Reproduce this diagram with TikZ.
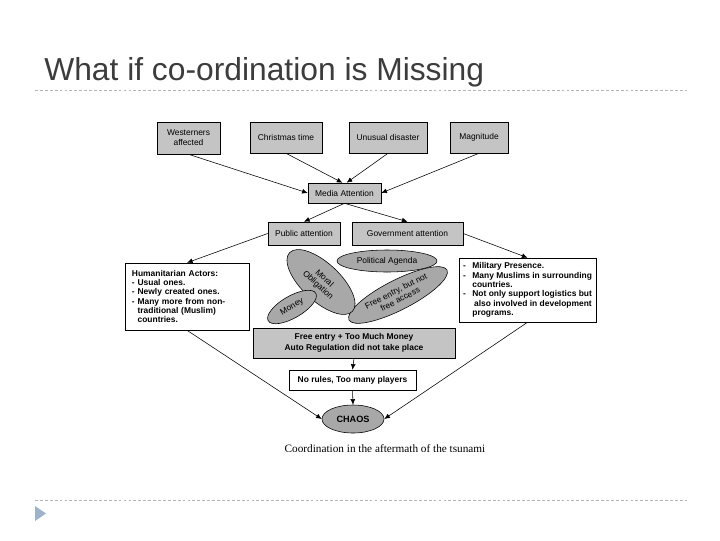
\documentclass[tikz,border=0pt]{standalone}
\usepackage{fontspec}
\setmainfont{Liberation Sans}
\newfontfamily\capfont{Liberation Serif}
\usetikzlibrary{arrows.meta,shapes.geometric}

\definecolor{boxgray}{HTML}{C4C4C4}
\definecolor{ovalgray}{HTML}{A8A8A8}
\definecolor{titlegray}{HTML}{3C3C3C}
\definecolor{rulegray}{HTML}{B4B4B4}
\definecolor{bulletblue}{HTML}{9FB3C8}

\tikzset{
  graybox/.style={draw,fill=boxgray,inner sep=1pt,align=center,font=\fontsize{6}{7}\selectfont},
  whitebox/.style={draw,fill=white,inner xsep=5pt,inner ysep=3pt,align=left,font=\fontsize{6}{6.6}\selectfont\bfseries},
  oval/.style={draw,ellipse,fill=ovalgray,inner sep=0pt,align=center,font=\fontsize{6}{6.6}\selectfont},
  link/.style={-{Latex[length=4pt,width=3.5pt]},thin},
}

\begin{document}
\begin{tikzpicture}[x=0.025cm,y=-0.025cm]
\useasboundingbox (0,0) rectangle (720,540);
% slide frame
\node[anchor=base west,inner sep=0pt,text=titlegray,font=\fontsize{22.6}{26}\selectfont] (title) at (44,80) {What if co-ordination is Missing};
\draw[rulegray,dash pattern=on 2pt off 1.5pt] (35,90) -- (688,90);
\draw[rulegray,dash pattern=on 2pt off 1.5pt] (35,500) -- (688,500);
\fill[bulletblue] (35,506) -- (46,513.5) -- (35,521) -- cycle;

% causes
\node[graybox,minimum width=1.575cm,minimum height=0.8cm] (west) at (188.5,138) {Westerners\\affected};
\node[graybox,minimum width=1.8cm,minimum height=0.775cm] (xmas) at (286,137.5) {Christmas time};
\node[graybox,minimum width=1.95cm,minimum height=0.775cm] (unusual) at (388,137.5) {Unusual disaster};
\node[graybox,minimum width=1.45cm,minimum height=0.775cm] (magn) at (479,137.5) {Magnitude};
\node[graybox,minimum width=1.825cm,minimum height=0.5cm] (media) at (344.5,193) {Media Attention};
\node[graybox,minimum width=1.8cm,minimum height=0.575cm] (public) at (304,233.5) {Public attention};
\node[graybox,minimum width=2.775cm,minimum height=0.575cm] (govt) at (407.5,233.5) {Government attention};

% actors
\node[whitebox,text width=2.75cm,minimum height=1.675cm] (actors) at (187,296.5) {Humanitarian Actors:\\- Usual ones.\\- Newly created ones.\\- Many more from non-\\\phantom{- }traditional (Muslim)\\\phantom{- }countries.};
\node[whitebox,inner xsep=3pt,minimum width=3.425cm,minimum height=1.6cm] (military) at (527.5,290) {\makebox[1.1em][l]{-}Military Presence.\\\makebox[1.1em][l]{-}Many Muslims in surrounding\\\hspace{1.1em}countries.\\\makebox[1.1em][l]{-}Not only support logistics but\\\hspace{1.3em}also involved in development\\\hspace{1.1em}programs.};
\draw[line width=1.2pt] (military.north east) -- (military.south east);

% motives
\node[oval,minimum width=2.5cm,minimum height=0.55cm] (agenda) at (387,261) {Political Agenda};
\node[oval,rotate=27,minimum width=2.75cm,minimum height=0.75cm] (access) at (398,295) {Free entry, but not\\free access};
\node[oval,rotate=-43,minimum width=2.15cm,minimum height=0.95cm] (moral) at (321,282) {Moral\\Obligation};
\node[oval,rotate=30,minimum width=1.375cm,minimum height=0.55cm] (money) at (292,307) {Money};

% outcome
\node[graybox,font=\fontsize{6}{7.5}\selectfont\bfseries,minimum width=5.05cm,minimum height=0.75cm] (money2) at (354,343) {Free entry + Too Much Money\\Auto Regulation did not take place};
\node[graybox,fill=white,font=\fontsize{6}{7}\selectfont\bfseries,minimum width=3.175cm,minimum height=0.5cm] (rules) at (352.5,380) {No rules, Too many players};
\node[oval,font=\fontsize{6.5}{7}\selectfont\bfseries,minimum width=1.55cm,minimum height=0.7cm] (chaos) at (353,419) {CHAOS};

\begin{scope}
\clip (0,0) rectangle (720,451);
\node[anchor=base,inner sep=0pt,font=\capfont\fontsize{8}{10}\selectfont] (caption) at (385,452) {Coordination in the aftermath of the tsunami};
\end{scope}

\draw[link] (west.south) -- (media.west);
\draw[link] (xmas.south) -- ([xshift=-1.5pt]media.north);
\draw[link] (unusual.south) -- ([xshift=1.5pt]media.north);
\draw[link] (magn.south) -- (media.east);
\draw[link] (media.south) -- (public.north);
\draw[link] (media.south) -- (govt.north);
\draw[link] (public.west) -- (actors.north);
\draw[link] (govt.east) -- (military.north);
\draw[link] (actors.south) -- (chaos.west);
\draw[link] (military.south) -- (chaos.east);
\draw[link] (money2.south) -- (rules.north);
\draw[link] (rules.south) -- (chaos.north);
\end{tikzpicture}
\end{document}
